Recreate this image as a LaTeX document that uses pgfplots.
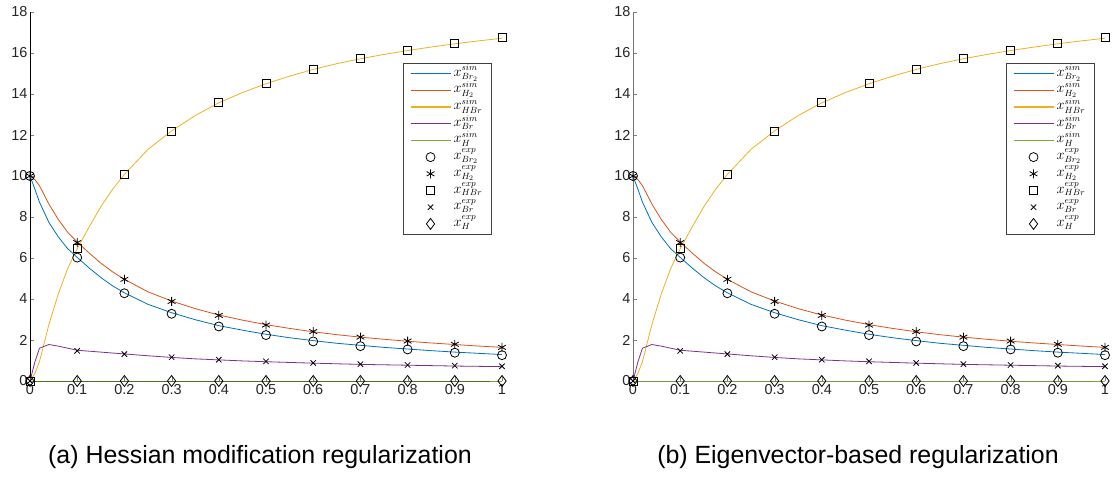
\documentclass[border=0pt]{standalone}
\usepackage[no-math]{fontspec}
\setmainfont{Liberation Sans}
\usepackage{pgfplots}
\pgfplotsset{compat=1.18}
\usepackage{pgfplotstable}

\definecolor{mB}{rgb}{0,0.447,0.741}
\definecolor{mO}{rgb}{0.85,0.325,0.098}
\definecolor{mY}{rgb}{0.929,0.694,0.125}
\definecolor{mP}{rgb}{0.494,0.184,0.556}
\definecolor{mG}{rgb}{0.466,0.674,0.188}

\pgfplotstableread{
x      Br2   H2     HBr    Br     H
0      10    10     0      0      0
0.01   9.38  9.83   0.35   0.9    0
0.02   8.73  9.53   0.94   1.6    0
0.04   7.74  8.63   2.75   1.78   0
0.06   7.03  7.88   4.25   1.70   0
0.08   6.45  7.25   5.50   1.60   0
0.10   6.03  6.78   6.45   1.50   0
0.125  5.52  6.25   7.50   1.455  0
0.15   5.05  5.75   8.50   1.41   0
0.175  4.64  5.325  9.35   1.365  0
0.20   4.30  4.96   10.08  1.32   0
0.25   3.74  4.35   11.30  1.23   0
0.30   3.33  3.90   12.20  1.15   0
0.35   2.99  3.53   12.95  1.08   0
0.40   2.70  3.22   13.57  1.03   0
0.45   2.48  2.97   14.07  0.98   0
0.50   2.28  2.75   14.50  0.94   0
0.55   2.11  2.565  14.87  0.905  0
0.60   1.97  2.40   15.20  0.87   0
0.65   1.84  2.26   15.48  0.84   0
0.70   1.74  2.14   15.72  0.81   0
0.75   1.64  2.035  15.93  0.79   0
0.80   1.56  1.94   16.12  0.77   0
0.85   1.48  1.855  16.29  0.75   0
0.90   1.41  1.78   16.45  0.73   0
0.95   1.35  1.705  16.59  0.715  0
1.00   1.29  1.64   16.72  0.70   0
}\simtab

\pgfplotstableread{
x    Br2   H2    HBr    Br    H
0    10    10    0      0     0
0.1  6.02  6.75  6.45   1.47  0
0.2  4.28  4.96  10.08  1.31  0
0.3  3.28  3.88  12.19  1.16  0
0.4  2.66  3.20  13.59  1.04  0
0.5  2.24  2.73  14.52  0.96  0
0.6  1.93  2.41  15.20  0.88  0
0.7  1.70  2.14  15.72  0.82  0
0.8  1.54  1.95  16.13  0.78  0
0.9  1.38  1.79  16.46  0.75  0
1.0  1.26  1.64  16.74  0.72  0
}\exptab

\pgfplotsset{
  simline/.style={line width=0.8bp, no marks,
    legend image code/.code={\draw[##1, line width=1.1bp] (0bp,0bp) -- (40bp,0bp);}},
  expmark/.style={only marks, black, mark options={solid, line width=0.8bp, fill=none},
    legend image code/.code={\draw[mark repeat=2,mark phase=2,##1] plot coordinates {(0bp,0bp) (20bp,0bp) (40bp,0bp)};}},
  myax/.style={
    scale only axis, width=472bp, height=369bp,
    xmin=0, xmax=1, ymin=0, ymax=18,
    axis x line*=bottom, axis y line*=left,
    xtick={0,0.1,0.2,0.3,0.4,0.5,0.6,0.7,0.8,0.9,1},
    ytick={0,2,4,6,8,10,12,14,16,18},
    tick align=inside, major tick length=4bp,
    tick label style={font=\fontsize{14.5}{14.5}\selectfont, text=black!85},
    yticklabel style={xshift=1bp},
    /pgf/number format/assume math mode=true,
    clip=false,
    legend cell align=left,
    legend style={at={(rel axis cs:0.979,0.862)}, anchor=north east,
      draw=black!75, line width=0.7bp, fill=white,
      font=\fontsize{13.5}{13.5}\selectfont,
      nodes={text height=9bp, text depth=4bp, inner ysep=1.85bp, inner xsep=2.5bp},
      inner xsep=7bp, inner ysep=2bp, row sep=0bp},
  },
}

\newcommand{\drawall}{%
  \addplot[simline, mB] table[x=x,y=Br2] {\simtab};
  \addlegendentry{$x^{sim}_{Br_2}$}
  \addplot[simline, mO] table[x=x,y=H2] {\simtab};
  \addlegendentry{$x^{sim}_{H_2}$}
  \addplot[simline, mY] table[x=x,y=HBr] {\simtab};
  \addlegendentry{$x^{sim}_{HBr}$}
  \addplot[simline, mP] table[x=x,y=Br] {\simtab};
  \addlegendentry{$x^{sim}_{Br}$}
  \addplot[simline, mG] table[x=x,y=H] {\simtab};
  \addlegendentry{$x^{sim}_{H}$}
  \addplot[expmark, mark=o, mark size=4.5bp] table[x=x,y=Br2] {\exptab};
  \addlegendentry{$x^{exp}_{Br_2}$}
  \addplot[expmark, mark=asterisk, mark size=4.5bp] table[x=x,y=H2] {\exptab};
  \addlegendentry{$x^{exp}_{H_2}$}
  \addplot[expmark, mark=square, mark size=4bp] table[x=x,y=HBr] {\exptab};
  \addlegendentry{$x^{exp}_{HBr}$}
  \addplot[expmark, mark=x, mark size=3.8bp] table[x=x,y=Br] {\exptab};
  \addlegendentry{$x^{exp}_{Br}$}
  \addplot[expmark, mark=diamond, mark size=5.5bp] table[x=x,y=H] {\exptab};
  \addlegendentry{$x^{exp}_{H}$}
}

\begin{document}
\begin{tikzpicture}
\useasboundingbox (0,0) rectangle (1115bp,483bp);
\begin{axis}[myax, at={(30bp,102bp)}, anchor=south west,
  axis line style={black, line width=0.7bp}]
\drawall
\end{axis}
\begin{axis}[myax, at={(633bp,102bp)}, anchor=south west,
  axis line style={black!55, line width=0.9bp}]
\drawall
\end{axis}
\node[anchor=base, font=\fontsize{25}{25}\selectfont] at (260bp,20bp) {(a) Hessian modification regularization};
\node[anchor=base, font=\fontsize{25}{25}\selectfont] at (858bp,20bp) {(b) Eigenvector-based regularization};
\end{tikzpicture}
\end{document}
